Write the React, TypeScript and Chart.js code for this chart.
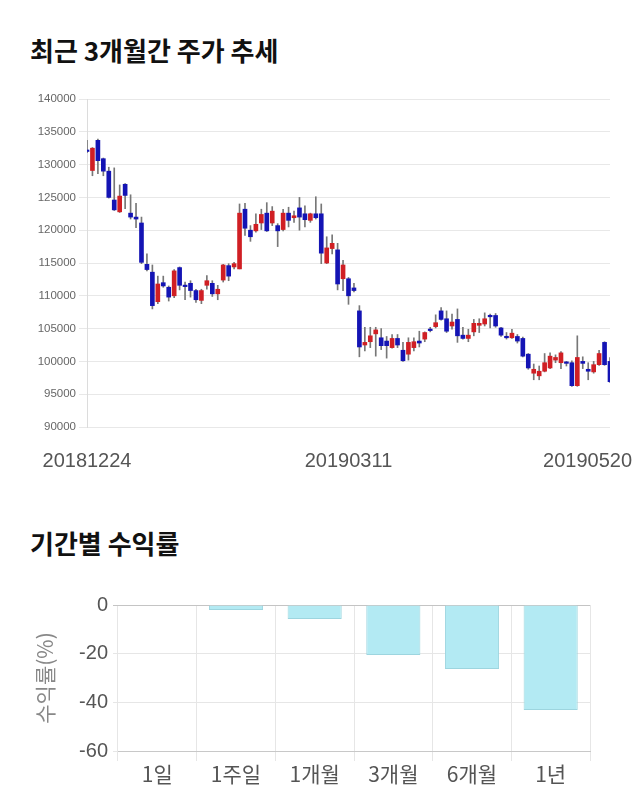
import React, { useEffect, useRef } from "react";
import { Chart, registerables } from "chart.js";
Chart.register(...registerables);

// ---------- Price chart data ----------
const dates = [
  "20181224", "20181226", "20181227", "20181228",
  "20190102", "20190103", "20190104", "20190107", "20190108", "20190109", "20190110", "20190111",
  "20190114", "20190115", "20190116", "20190117", "20190118", "20190121", "20190122", "20190123",
  "20190124", "20190125", "20190128", "20190129", "20190130", "20190131",
  "20190201", "20190207", "20190208", "20190211", "20190212", "20190213", "20190214", "20190215",
  "20190218", "20190219", "20190220", "20190221", "20190222", "20190225", "20190226", "20190227", "20190228",
  "20190304", "20190305", "20190306", "20190307", "20190308", "20190311", "20190312", "20190313",
  "20190314", "20190315", "20190318", "20190319", "20190320", "20190321", "20190322", "20190325",
  "20190326", "20190327", "20190328", "20190329",
  "20190401", "20190402", "20190403", "20190404", "20190405", "20190408", "20190409", "20190410",
  "20190411", "20190412", "20190415", "20190416", "20190417", "20190418", "20190419", "20190422",
  "20190423", "20190424", "20190425", "20190426", "20190429", "20190430",
  "20190502", "20190503", "20190507", "20190508", "20190509", "20190510", "20190513", "20190514",
  "20190515", "20190516", "20190517", "20190520",
];

const opens = [
  132200, 129100, 133700, 130900, 129000, 124600, 122800, 127000, 122600, 122000,
  121100, 114800, 113600, 109100, 112000, 111300, 110000, 114300, 111600, 111900,
  110800, 109300, 111600, 111900, 110300, 112400, 114600, 114400, 114100, 123200,
  120000, 119900, 121100, 122600, 121100, 120700, 120100, 122600, 121900, 123400,
  122500, 121500, 122500, 122500, 115000, 117200, 117000, 112600, 112600, 111200,
  107700, 102500, 103000, 104200, 103600, 103100, 102100, 103500, 101700, 101100,
  102100, 103100, 103400, 104900, 105300, 107700, 106500, 105400, 106400, 104000,
  103500, 104500, 105500, 105700, 106900, 107000, 105100, 103700, 103600, 103800,
  103500, 101100, 98200, 97800, 98500, 99000, 100200, 99800, 99800, 99800,
  96300, 100000, 98800, 98400, 99500, 102900, 100000,
];
const highs = [
  133700, 132600, 133900, 131000, 129600, 129500, 126900, 127100, 125400, 124100,
  122000, 116400, 114700, 113000, 113000, 111500, 114000, 114400, 112100, 112300,
  111000, 111000, 113100, 112300, 111600, 114800, 114900, 115100, 124000, 124100,
  120700, 122500, 123200, 124200, 123600, 121000, 123200, 123500, 122900, 125000,
  123700, 122600, 125100, 124000, 119000, 119300, 118000, 115400, 112800, 111900,
  108500, 105200, 105200, 105200, 105000, 103800, 104100, 104100, 102900, 103600,
  103600, 104600, 104500, 105200, 107100, 108200, 107700, 107200, 108000, 105200,
  104900, 106400, 106500, 107400, 107200, 107300, 105200, 104400, 104900, 104100,
  103700, 101200, 99600, 99300, 101200, 101300, 101000, 101500, 100000, 100100,
  103900, 100700, 99800, 100000, 101700, 103000, 100600,
];
const lows = [
  131800, 128300, 128600, 128300, 124900, 123000, 122700, 123300, 121700, 120400,
  114900, 113800, 108000, 108800, 111300, 109200, 109700, 110900, 109400, 109800,
  109000, 108800, 111000, 109900, 109400, 112100, 112300, 114100, 114100, 119200,
  118300, 119700, 120100, 119800, 120700, 117500, 119900, 120500, 121200, 120000,
  120500, 121200, 121700, 114900, 114900, 116400, 110900, 110800, 108700, 110600,
  100700, 101600, 102100, 100800, 101800, 100500, 102000, 102100, 100000, 100200,
  101600, 102200, 103000, 104500, 105100, 106300, 104400, 104900, 102900, 103400,
  103000, 103900, 104400, 105400, 105100, 105200, 103800, 103400, 103500, 102800,
  100700, 98800, 97200, 97200, 98400, 98900, 99800, 98900, 99300, 96200,
  96200, 98900, 97200, 98200, 99400, 99400, 96800,
];
const closes = [
  132000, 132500, 130600, 129000, 125000, 123100, 125200, 125300, 122000, 121700,
  115100, 114000, 108500, 111800, 111500, 109800, 113800, 111600, 111400, 110800,
  109400, 110800, 112300, 110300, 111000, 114700, 113000, 114900, 122600, 120300,
  119000, 120900, 122400, 119900, 122900, 119900, 122600, 121500, 122200, 122000,
  121600, 122500, 121900, 116500, 117300, 118000, 111800, 114700, 110000, 110800,
  102200, 102900, 103900, 104800, 102400, 102400, 103500, 102500, 100100, 102900,
  103000, 102800, 104400, 104700, 105900, 106400, 104600, 106000, 103900, 103500,
  104000, 105800, 105800, 106500, 106800, 105400, 104000, 103600, 104300, 103100,
  100800, 99000, 98800, 98500, 99800, 100800, 100600, 101300, 99700, 96300,
  100600, 99700, 98500, 99500, 101200, 99500, 96900,
];
const shownDates = ["20181224", "20190311", "20190520"];
const priceMin = 90000;
const priceMax = 140000;
const priceStep = 5000;

// ---------- Returns chart data ----------
const periods = ["1일", "1주일", "1개월", "3개월", "6개월", "1년"];
const returns = [0, -2.1, -5.8, -20.5, -26.3, -43.1];
const returnMin = -60;
const returnMax = 0;
const returnStep = 20;

const RED = "#d01f24";
const BLUE = "#1414b4";

const xLabelPlugin = {
  id: "xLabels",
  afterDraw(chart: any) {
    const ctx = chart.ctx;
    const xs = chart.scales.x;
    ctx.save();
    ctx.font = '20px "Liberation Sans", Arial, sans-serif';
    ctx.fillStyle = "#555";
    ctx.textBaseline = "middle";
    ctx.textAlign = "center";
    shownDates.forEach((d) => {
      const i = dates.indexOf(d);
      let x = xs.getPixelForValue(i);
      const w = ctx.measureText(d).width;
      x = Math.min(Math.max(x, w / 2 + 2), chart.width - w / 2 - 8);
      ctx.fillText(d, x, chart.chartArea.bottom + 34);
    });
    ctx.restore();
  },
};

function PriceChart() {
  const ref = useRef<HTMLCanvasElement>(null);
  useEffect(() => {
    if (!ref.current) return;
    const colors = opens.map((o, i) => (closes[i] >= o ? RED : BLUE));
    const chart = new Chart(ref.current, {
      type: "bar",
      data: {
        labels: dates,
        datasets: [
          {
            label: "body",
            data: dates.map((_, i) => [opens[i], closes[i]]) as any,
            backgroundColor: colors,
            barThickness: 4,
            minBarLength: 1.5,
            grouped: false,
            borderWidth: 0,
          } as any,
          {
            label: "wick",
            data: dates.map((_, i) => [lows[i], highs[i]]) as any,
            backgroundColor: "#777",
            barThickness: 1,
            grouped: false,
            borderWidth: 0,
          } as any,
        ],
      },
      options: {
        animation: false,
        responsive: false,
        maintainAspectRatio: false,
        layout: { padding: { top: 19, right: 30, left: 0, bottom: 0 } },
        plugins: { legend: { display: false }, tooltip: { enabled: false } },
        scales: {
          x: {
            offset: false,
            grid: { display: false },
            border: { display: false },
            ticks: { display: false },
            afterFit: (s: any) => {
              s.height = 53;
            },
          },
          y: {
            min: priceMin,
            max: priceMax,
            ticks: {
              stepSize: priceStep,
              color: "#666",
              font: { size: 11.5, family: '"Liberation Sans", Arial, sans-serif' },
              padding: 3,
              callback: (v: any) => String(v),
            },
            grid: { color: "#e8e8e8", tickLength: 8 },
            border: { color: "#dcdcdc" },
            afterFit: (s: any) => {
              s.width = 87;
            },
          },
        },
      } as any,
      plugins: [xLabelPlugin],
    });
    return () => chart.destroy();
  }, []);
  return <canvas ref={ref} width={640} height={400} style={{ position: "absolute", left: 0, top: 80 }} />;
}

function ReturnChart() {
  const ref = useRef<HTMLCanvasElement>(null);
  useEffect(() => {
    if (!ref.current) return;
    const chart = new Chart(ref.current, {
      type: "bar",
      data: {
        labels: periods,
        datasets: [
          {
            label: "수익률",
            data: returns,
            backgroundColor: "#b3eaf3",
            borderColor: "#9dd5df",
            borderWidth: 1,
            categoryPercentage: 0.8,
            barPercentage: 0.86,
          },
        ],
      },
      options: {
        animation: false,
        responsive: false,
        maintainAspectRatio: false,
        layout: { padding: { top: 45, right: 50, left: 0, bottom: 0 } },
        plugins: { legend: { display: false }, tooltip: { enabled: false } },
        scales: {
          x: {
            grid: { color: "#e6e6e6", tickLength: 10 },
            border: { color: "#c8c8c8" },
            ticks: {
              color: "#555",
              font: { size: 21, family: '"Noto Sans CJK KR", sans-serif' },
              padding: 0,
            },
            afterFit: (s: any) => {
              s.height = 59;
            },
          },
          y: {
            min: returnMin,
            max: returnMax,
            ticks: {
              stepSize: returnStep,
              color: "#555",
              font: { size: 20, family: '"Liberation Sans", Arial, sans-serif' },
              padding: 5,
            },
            grid: {
              color: (c: any) => (c.tick && c.tick.value === 0 ? "#c4c4c4" : "#e6e6e6"),
              tickLength: 5,
            },
            border: { display: false },
            title: {
              display: true,
              text: "수익률(%)",
              color: "#888",
              font: { size: 21, family: '"Noto Sans CJK KR", sans-serif' },
              padding: { top: 32, bottom: 0 },
            },
            afterFit: (s: any) => {
              s.width = 118;
            },
          },
        },
      } as any,
    });
    return () => chart.destroy();
  }, []);
  return <canvas ref={ref} width={640} height={250} style={{ position: "absolute", left: 0, top: 560 }} />;
}

const titleStyle: React.CSSProperties = {
  position: "absolute",
  left: 30,
  margin: 0,
  fontFamily: '"Noto Sans CJK KR", sans-serif',
  fontWeight: 700,
  fontSize: 26,
  lineHeight: "30px",
  color: "#111",
  whiteSpace: "nowrap",
};

export default function App() {
  return (
    <div style={{ position: "absolute", left: 0, top: 0, width: 640, height: 810, background: "#fff", overflow: "hidden" }}>
      <div style={{ ...titleStyle, top: 35 }}>최근 3개월간 주가 추세</div>
      <PriceChart />
      <div style={{ ...titleStyle, top: 528 }}>기간별 수익률</div>
      <ReturnChart />
    </div>
  );
}
